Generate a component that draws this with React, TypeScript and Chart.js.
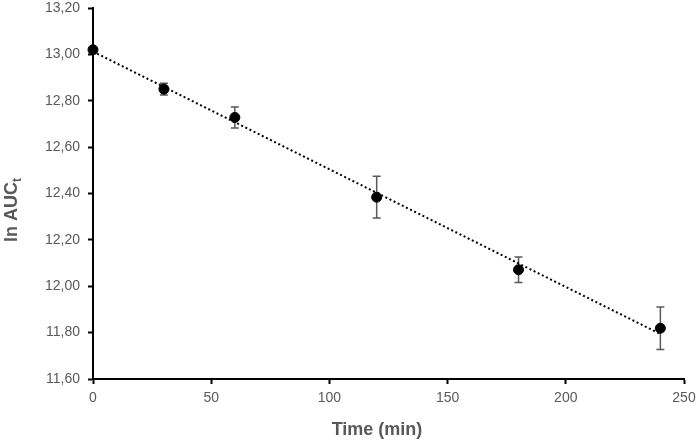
import React, { useEffect, useRef } from "react";
import { Chart, registerables } from "chart.js";

Chart.register(...registerables);

const times = [0, 30, 60, 120, 180, 240];
const lnAuc = [13.02, 12.85, 12.728, 12.384, 12.071, 11.819];
const errors = [0, 0.025, 0.045, 0.09, 0.055, 0.092];
const trendX = [0, 240];
const trendY = [13.012, 11.794];
const xTitle = "Time (min)";
const yTitleMain = "ln AUC";
const yTitleSub = "t";

const GRAY = "#595959";
const FONT = '"Liberation Sans", Arial, sans-serif';

const errorBarPlugin = {
  id: "errorBars",
  beforeDatasetsDraw(chart: any) {
    const { ctx, scales } = chart;
    const xs = scales.x;
    const ys = scales.y;
    ctx.save();
    ctx.strokeStyle = GRAY;
    ctx.lineWidth = 1.5;
    for (let i = 0; i < times.length; i++) {
      const e = errors[i];
      if (!e) continue;
      const px = xs.getPixelForValue(times[i]);
      const top = ys.getPixelForValue(lnAuc[i] + e);
      const bot = ys.getPixelForValue(lnAuc[i] - e);
      ctx.beginPath();
      ctx.moveTo(px, top);
      ctx.lineTo(px, bot);
      ctx.moveTo(px - 4, top);
      ctx.lineTo(px + 4, top);
      ctx.moveTo(px - 4, bot);
      ctx.lineTo(px + 4, bot);
      ctx.stroke();
    }
    ctx.restore();
  },
};

const titlesPlugin = {
  id: "axisTitles",
  afterDraw(chart: any) {
    const { ctx } = chart;
    ctx.save();
    ctx.fillStyle = GRAY;
    ctx.font = `bold 18px ${FONT}`;
    ctx.textAlign = "center";
    ctx.textBaseline = "middle";
    ctx.fillText(xTitle, 377, 430);

    ctx.translate(17, 210);
    ctx.rotate(-Math.PI / 2);
    ctx.textAlign = "left";
    ctx.textBaseline = "alphabetic";
    const w1 = ctx.measureText(yTitleMain).width;
    ctx.font = `bold 12px ${FONT}`;
    const w2 = ctx.measureText(yTitleSub).width;
    const start = -(w1 + w2) / 2;
    ctx.font = `bold 18px ${FONT}`;
    ctx.fillText(yTitleMain, start, 0);
    ctx.font = `bold 12px ${FONT}`;
    ctx.fillText(yTitleSub, start + w1, 4);
    ctx.restore();
  },
};

export default function App() {
  const ref = useRef<HTMLCanvasElement>(null);

  useEffect(() => {
    if (!ref.current) return;
    const chart = new Chart(ref.current, {
      type: "scatter",
      data: {
        datasets: [
          {
            type: "line",
            data: trendX.map((x, i) => ({ x, y: trendY[i] })),
            borderColor: "#000",
            borderWidth: 2,
            borderDash: [2, 2.6],
            borderCapStyle: "butt",
            pointRadius: 0,
            fill: false,
            order: 2,
          } as any,
          {
            data: times.map((x, i) => ({ x, y: lnAuc[i] })),
            backgroundColor: "#000",
            borderColor: "#000",
            pointRadius: 5,
            pointHoverRadius: 5,
            clip: false,
            order: 1,
          } as any,
        ],
      },
      plugins: [errorBarPlugin, titlesPlugin],
      options: {
        responsive: false,
        animation: false,
        devicePixelRatio: 1,
        layout: { padding: { left: 0, right: 16, top: 8, bottom: 0 } },
        plugins: {
          legend: { display: false },
          tooltip: { enabled: false },
        },
        scales: {
          x: {
            type: "linear",
            min: 0,
            max: 250,
            afterFit(scale: any) {
              scale.height = 63;
              scale.paddingLeft = 0;
              scale.paddingRight = 0;
            },
            ticks: {
              stepSize: 50,
              color: GRAY,
              font: { family: FONT, size: 14 },
              padding: 6,
              maxRotation: 0,
            },
            grid: {
              drawOnChartArea: false,
              drawTicks: true,
              tickLength: 5,
              tickColor: "#000",
              tickWidth: 2,
            },
            border: { display: true, color: "#000", width: 2 },
          },
          y: {
            type: "linear",
            min: 11.6,
            max: 13.2,
            afterFit(scale: any) {
              scale.width = 93;
              scale.paddingTop = 0;
              scale.paddingBottom = 0;
            },
            ticks: {
              stepSize: 0.2,
              color: GRAY,
              font: { family: FONT, size: 14 },
              padding: 8,
              callback: (v: any) => Number(v).toFixed(2).replace(".", ","),
            },
            grid: {
              drawOnChartArea: false,
              drawTicks: true,
              tickLength: 5,
              tickColor: "#000",
              tickWidth: 2,
            },
            border: { display: true, color: "#000", width: 2 },
          },
        },
      } as any,
    });
    return () => chart.destroy();
  }, []);

  return (
    <div style={{ position: "fixed", left: 0, top: 0, width: 700, height: 442, background: "#fff" }}>
      <canvas ref={ref} width={700} height={442} style={{ width: 700, height: 442 }} />
    </div>
  );
}
